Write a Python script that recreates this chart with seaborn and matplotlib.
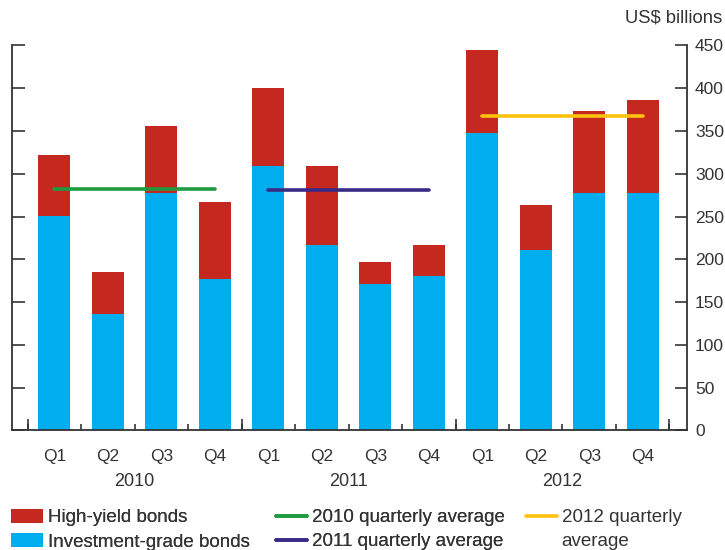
import numpy as np
import pandas as pd
import matplotlib
matplotlib.use("Agg")
import matplotlib.pyplot as plt
import matplotlib.transforms as mtransforms
from matplotlib.patches import Patch
from matplotlib.lines import Line2D
import seaborn as sns

# ---- data ----
quarters = ["Q1", "Q2", "Q3", "Q4"] * 3
years = ["2010", "2011", "2012"]
investment_grade = [251, 136, 277, 177, 309, 217, 171, 181, 348, 211, 278, 277]
high_yield = [71, 49, 79, 90, 91, 92, 26, 36, 97, 53, 95, 109]
year_averages = [282.5, 280.75, 367.0]
yticks = [0, 50, 100, 150, 200, 250, 300, 350, 400, 450]

RED = "#C4281F"
BLUE = "#00ADEE"
AVG_COLORS = ["#1F9A3F", "#3A2A86", "#FFC20E"]
TXT = "#333333"
SPINE = "#333333"

sns.set_theme(style="white")
plt.rcParams["font.family"] = ["Liberation Sans", "DejaVu Sans"]
plt.rcParams["text.color"] = TXT
plt.rcParams["axes.labelcolor"] = TXT

cats = [f"{y} {q}" for y in years for q in ["Q1", "Q2", "Q3", "Q4"]]
df = pd.DataFrame({
    "period": cats,
    "ig": investment_grade,
    "total": np.array(investment_grade) + np.array(high_yield),
})

fig = plt.figure(figsize=(7.25, 5.5), dpi=100)
ax = fig.add_axes([0.016, 0.2173, 0.931, 0.7003])

sns.barplot(data=df, x="period", y="total", color=RED, width=0.6,
            saturation=1, ax=ax, order=cats, linewidth=0, edgecolor="none")
sns.barplot(data=df, x="period", y="ig", color=BLUE, width=0.6,
            saturation=1, ax=ax, order=cats, linewidth=0, edgecolor="none")

# yearly averages from centre of Q1 to centre of Q4
for i, (avg, c) in enumerate(zip(year_averages, AVG_COLORS)):
    ax.plot([4 * i, 4 * i + 3], [avg, avg], color=c, lw=2.6,
            solid_capstyle="round", zorder=5)

ax.set_xlim(-0.8, 11.82)
ax.set_ylim(0, 450)
ax.set_xlabel("")
ax.set_ylabel("")

# spines
for s in ["left", "right", "bottom"]:
    ax.spines[s].set_visible(True)
    ax.spines[s].set_color(SPINE)
    ax.spines[s].set_linewidth(1.3)
ax.spines["top"].set_visible(False)

# y ticks: both sides inward, labels on right
ax.set_yticks(yticks)
ax.set_yticklabels([str(v) for v in yticks])
ax.tick_params(axis="y", which="major", left=True, right=True,
               labelleft=False, labelright=True, direction="in",
               length=9, width=1.2, color=SPINE, labelsize=12.5,
               labelcolor=TXT, pad=6)

# x ticks: boundaries (short), labels at centres
ax.set_xticks(np.arange(-0.5, 12, 1.0))
ax.set_xticklabels([""] * 13)
ax.set_xticks(np.arange(12), minor=True)
ax.set_xticklabels(quarters, minor=True)
ax.tick_params(axis="x", which="major", bottom=True, direction="in",
               length=4, width=1.2, color=SPINE)
ax.tick_params(axis="x", which="minor", bottom=True, length=0,
               labelsize=12.5, labelcolor=TXT, pad=13)

# long ticks at year boundaries
sec = ax.secondary_xaxis("bottom")
sec.set_xticks([-0.5, 3.5, 7.5, 11.5])
sec.set_xticklabels([""] * 4)
sec.tick_params(axis="x", direction="in", length=8, width=1.2, color=SPINE)
sec.spines["bottom"].set_visible(False)

# year labels
trans = mtransforms.blended_transform_factory(ax.transData, ax.transAxes)
for i, y in enumerate(years):
    ax.text(4 * i + 1.5, -0.132, y, transform=trans, ha="center",
            va="center", fontsize=13, color=TXT)

fig.text(0.996, 0.967, "US$ billions", ha="right", va="center",
         fontsize=13.3, color=TXT)

# legends
FS = 13.5
common = dict(frameon=False, fontsize=FS, borderpad=0, borderaxespad=0,
              labelspacing=0.37, loc="upper left", labelcolor=TXT)
top = 1 - 509 / 550
h1 = [Patch(facecolor=RED, edgecolor="none"),
      Patch(facecolor=BLUE, edgecolor="none")]
leg1 = fig.legend(h1, ["High-yield bonds", "Investment-grade bonds"],
                  bbox_to_anchor=(11 / 725, top),
                  handlelength=1.7, handleheight=0.75, handletextpad=0.3,
                  **common)
h2 = [Line2D([], [], color=AVG_COLORS[0], lw=2.6),
      Line2D([], [], color=AVG_COLORS[1], lw=2.6)]
leg2 = fig.legend(h2, ["2010 quarterly average", "2011 quarterly average"],
                  bbox_to_anchor=(276 / 725, top),
                  handlelength=1.65, handletextpad=0.25, **common)
h3 = [Line2D([], [], color=AVG_COLORS[2], lw=2.6),
      Line2D([], [], color="none", lw=0)]
leg3 = fig.legend(h3, ["2012 quarterly", "average"],
                  bbox_to_anchor=(526 / 725, top),
                  handlelength=1.65, handletextpad=0.25, **common)
fig.add_artist(leg1)
fig.add_artist(leg2)

fig.savefig("out.png", dpi=100)
